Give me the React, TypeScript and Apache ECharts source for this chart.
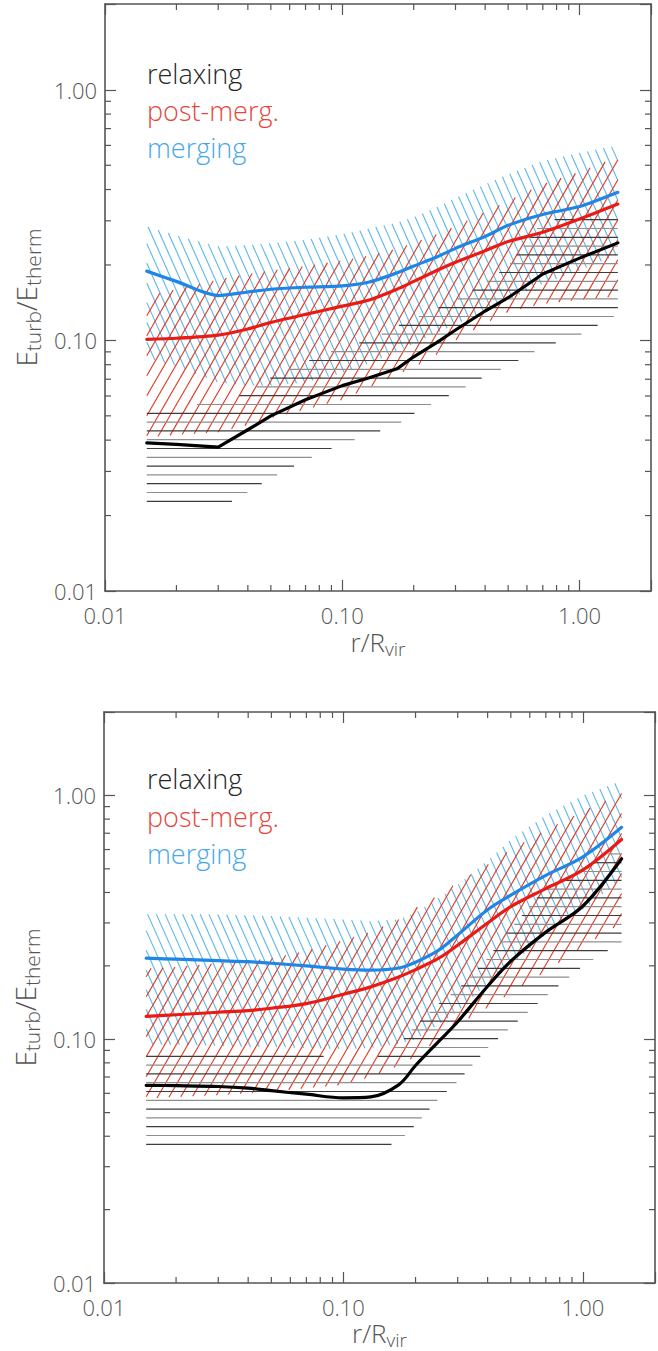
import React, { useEffect, useRef } from "react";
import * as echarts from "echarts";

// Radial sample points r/R_vir shared by every profile
const radius = [0.015, 0.02, 0.03, 0.04, 0.05, 0.07, 0.1, 0.13, 0.17, 0.2, 0.25, 0.3, 0.4, 0.5, 0.7, 1.0, 1.45];

// Upper panel: median and scatter range of E_turb/E_therm
const relaxMedianA = [0.039, 0.0385, 0.0375, 0.044, 0.05, 0.058, 0.066, 0.071, 0.077, 0.086, 0.098, 0.11, 0.131, 0.148, 0.184, 0.213, 0.245];
const relaxLowA = [0.0226, 0.0221, 0.0212, 0.0248, 0.0282, 0.0333, 0.0387, 0.042, 0.046, 0.051, 0.057, 0.062, 0.072, 0.079, 0.094, 0.105, 0.127];
const relaxHighA = [0.054, 0.055, 0.056, 0.062, 0.071, 0.082, 0.094, 0.1, 0.114, 0.122, 0.134, 0.145, 0.17, 0.198, 0.3, 0.31, 0.32];
const postMedianA = [0.101, 0.102, 0.105, 0.111, 0.118, 0.127, 0.137, 0.145, 0.16, 0.172, 0.19, 0.205, 0.228, 0.248, 0.27, 0.305, 0.35];
const postLowA = [0.041, 0.042, 0.043, 0.046, 0.049, 0.053, 0.058, 0.065, 0.073, 0.078, 0.088, 0.1, 0.117, 0.13, 0.14, 0.145, 0.15];
const postHighA = [0.15, 0.16, 0.175, 0.184, 0.19, 0.198, 0.208, 0.218, 0.232, 0.245, 0.265, 0.285, 0.325, 0.36, 0.42, 0.47, 0.54];
const mergMedianA = [0.189, 0.172, 0.151, 0.156, 0.16, 0.163, 0.165, 0.171, 0.186, 0.198, 0.215, 0.233, 0.26, 0.288, 0.318, 0.342, 0.39];
const mergLowA = [0.085, 0.079, 0.068, 0.066, 0.066, 0.068, 0.074, 0.081, 0.09, 0.097, 0.107, 0.116, 0.131, 0.145, 0.168, 0.19, 0.22];
const mergHighA = [0.285, 0.262, 0.237, 0.24, 0.244, 0.252, 0.265, 0.28, 0.295, 0.31, 0.34, 0.37, 0.42, 0.46, 0.52, 0.56, 0.6];

// Lower panel
const relaxMedianB = [0.0647, 0.0645, 0.064, 0.063, 0.0615, 0.0595, 0.0575, 0.058, 0.065, 0.078, 0.098, 0.118, 0.165, 0.209, 0.275, 0.352, 0.55];
const relaxLowB = [0.0365, 0.0362, 0.0358, 0.0354, 0.0351, 0.0345, 0.0342, 0.0345, 0.038, 0.0445, 0.057, 0.067, 0.092, 0.112, 0.15, 0.2, 0.25];
const relaxHighB = [0.088, 0.088, 0.088, 0.088, 0.088, 0.087, 0.083, 0.082, 0.095, 0.114, 0.14, 0.16, 0.215, 0.285, 0.42, 0.5, 0.62];
const postMedianB = [0.124, 0.126, 0.129, 0.131, 0.134, 0.14, 0.153, 0.164, 0.18, 0.193, 0.215, 0.243, 0.3, 0.35, 0.415, 0.495, 0.66];
const postLowB = [0.057, 0.058, 0.059, 0.06, 0.061, 0.063, 0.065, 0.07, 0.078, 0.085, 0.1, 0.115, 0.135, 0.155, 0.19, 0.24, 0.3];
const postHighB = [0.195, 0.198, 0.205, 0.21, 0.215, 0.23, 0.255, 0.275, 0.31, 0.345, 0.39, 0.44, 0.52, 0.6, 0.72, 0.86, 1.02];
const mergMedianB = [0.215, 0.213, 0.21, 0.208, 0.205, 0.2, 0.194, 0.192, 0.196, 0.207, 0.232, 0.268, 0.34, 0.39, 0.47, 0.56, 0.74];
const mergLowB = [0.095, 0.095, 0.094, 0.093, 0.093, 0.092, 0.091, 0.092, 0.096, 0.1, 0.115, 0.13, 0.17, 0.2, 0.27, 0.34, 0.45];
const mergHighB = [0.326, 0.326, 0.325, 0.322, 0.32, 0.315, 0.31, 0.305, 0.31, 0.33, 0.38, 0.43, 0.54, 0.66, 0.83, 1.0, 1.15];

// Axis ranges and tick structure
const X_MIN = 0.01;
const X_MAX = 2.0;
const Y_MIN = 0.01;
const Y_MAX = 2.2;
const decades = [0.01, 0.1, 1];
const minorMultiples = [2, 3, 4, 5, 6, 7, 8, 9];

const legendNames = ["relaxing", "post-merg.", "merging"];

const FONT = "'Open Sans', 'DejaVu Sans', sans-serif";
const AXIS_COLOR = "#555";
const LABEL_COLOR = "#555555";
const RELAX_LINE = "#000000";
const POST_LINE = "#ea1a14";
const MERG_LINE = "#1f86e6";
const POST_HATCH = "#e2361f";
const MERG_HATCH = "#5cb8ea";
const RELAX_HATCH = ["#3c3c3c", "#8e8e8e"];

const isDecade = (v: number) => Math.abs(Math.log10(v) - Math.round(Math.log10(v))) < 1e-6;
const decadeLabel = (v: number) => (isDecade(v) ? v.toFixed(2) : "");

// Clip a family of parallel lines (angle in degrees, perpendicular spacing in px) to a polygon
function hatchSegments(poly: number[][], angleDeg: number, spacing: number, phase: number) {
  const th = (angleDeg * Math.PI) / 180;
  const d = [Math.cos(th), -Math.sin(th)];
  const n = [Math.sin(th), Math.cos(th)];
  const s = poly.map((p) => p[0] * n[0] + p[1] * n[1]);
  const smin = Math.min(...s);
  const smax = Math.max(...s);
  const segs: { x1: number; y1: number; x2: number; y2: number; k: number }[] = [];
  for (let k = Math.ceil((smin - phase) / spacing); phase + k * spacing <= smax; k++) {
    const sv = phase + k * spacing;
    const hits: { u: number; x: number; y: number }[] = [];
    for (let i = 0; i < poly.length; i++) {
      const j = (i + 1) % poly.length;
      const a = s[i];
      const b = s[j];
      if ((a <= sv && b > sv) || (b <= sv && a > sv)) {
        const t = (sv - a) / (b - a);
        const x = poly[i][0] + t * (poly[j][0] - poly[i][0]);
        const y = poly[i][1] + t * (poly[j][1] - poly[i][1]);
        hits.push({ u: x * d[0] + y * d[1], x, y });
      }
    }
    hits.sort((p, q) => p.u - q.u);
    for (let m = 0; m + 1 < hits.length; m += 2) {
      segs.push({ x1: hits[m].x, y1: hits[m].y, x2: hits[m + 1].x, y2: hits[m + 1].y, k });
    }
  }
  return segs;
}

function hatchSeries(
  grid: number,
  name: string,
  low: number[],
  high: number[],
  angle: number,
  spacing: number,
  phase: number,
  colors: string[],
  width: number
) {
  return {
    type: "custom",
    name,
    xAxisIndex: grid * 2,
    yAxisIndex: grid * 2,
    silent: true,
    clip: true,
    data: [[radius[0], low[0]]],
    renderItem: (_params: any, api: any) => {
      const upper = radius.map((x, i) => api.coord([x, high[i]]));
      const lower = radius.map((x, i) => api.coord([x, low[i]])).reverse();
      const segs = hatchSegments(upper.concat(lower), angle, spacing, phase);
      return {
        type: "group",
        children: segs.map((g) => ({
          type: "line",
          shape: { x1: g.x1, y1: g.y1, x2: g.x2, y2: g.y2 },
          style: {
            stroke: colors[((g.k % colors.length) + colors.length) % colors.length],
            lineWidth: width,
          },
        })),
      };
    },
  };
}

function medianSeries(grid: number, name: string, values: number[], color: string, smooth: number | boolean) {
  return {
    type: "line",
    name,
    xAxisIndex: grid * 2,
    yAxisIndex: grid * 2,
    data: radius.map((x, i) => [x, values[i]]),
    showSymbol: false,
    symbol: "none",
    smooth,
    silent: true,
    lineStyle: { color, width: 3.2, cap: "round", join: "round" },
  };
}

// Minor ticks (2..9 per decade) pointing inwards on all four frame sides
function minorTickSeries(grid: number) {
  const xMinor: number[] = [];
  const yMinor: number[] = [];
  decades.forEach((d) =>
    minorMultiples.forEach((m) => {
      const v = m * d;
      if (v > X_MIN && v < X_MAX) xMinor.push(v);
      if (v > Y_MIN && v < 1) yMinor.push(v);
    })
  );
  return {
    type: "custom",
    xAxisIndex: grid * 2,
    yAxisIndex: grid * 2,
    silent: true,
    clip: false,
    data: [[1, 1]],
    renderItem: (_params: any, api: any) => {
      const [left, bottom] = api.coord([X_MIN, Y_MIN]);
      const [right, top] = api.coord([X_MAX, Y_MAX]);
      const len = 6;
      const style = { stroke: AXIS_COLOR, lineWidth: 1.2 };
      const children: any[] = [];
      xMinor.forEach((v) => {
        const px = api.coord([v, Y_MIN])[0];
        children.push({ type: "line", shape: { x1: px, y1: bottom, x2: px, y2: bottom - len }, style });
        children.push({ type: "line", shape: { x1: px, y1: top, x2: px, y2: top + len }, style });
      });
      yMinor.forEach((v) => {
        const py = api.coord([X_MIN, v])[1];
        children.push({ type: "line", shape: { x1: left, y1: py, x2: left + len, y2: py }, style });
        children.push({ type: "line", shape: { x1: right, y1: py, x2: right - len, y2: py }, style });
      });
      return { type: "group", children };
    },
  };
}

const axisLine = { onZero: false, lineStyle: { color: AXIS_COLOR, width: 1.6 } };
const axisTick = { inside: true, length: 11, lineStyle: { color: AXIS_COLOR, width: 1.2 } };

// Axis titles with subscripts: the subscript token sits at the bottom of a taller line box
function nameStyle(main: number, sub: number) {
  return {
    color: LABEL_COLOR,
    fontFamily: FONT,
    fontWeight: 300,
    fontSize: main,
    rich: {
      m: { fontSize: main, lineHeight: main + 6, fontFamily: FONT, fontWeight: 300, color: LABEL_COLOR },
      s: { fontSize: sub, lineHeight: sub - 4, verticalAlign: "bottom", fontFamily: FONT, fontWeight: 300, color: LABEL_COLOR },
    },
  };
}

const tickLabel = { formatter: decadeLabel, fontSize: 22, color: LABEL_COLOR, fontFamily: FONT, fontWeight: 300 };

function xAxes(grid: number, gap: number) {
  const base = {
    type: "log",
    logBase: 10,
    min: X_MIN,
    max: X_MAX,
    gridIndex: grid,
    axisLine,
    axisTick,
    splitLine: { show: false },
  };
  return [
    {
      ...base,
      position: "bottom",
      axisLabel: { ...tickLabel, margin: 13 },
      name: "{m|r/R}{s|vir}",
      nameLocation: "middle",
      nameGap: gap,
      nameTextStyle: nameStyle(26, 19),
    },
    { ...base, position: "top", axisLabel: { show: false } },
  ];
}

function yAxes(grid: number) {
  const base = {
    type: "log",
    logBase: 10,
    min: Y_MIN,
    max: Y_MAX,
    gridIndex: grid,
    axisLine,
    axisTick,
    splitLine: { show: false },
  };
  return [
    {
      ...base,
      position: "left",
      axisLabel: { ...tickLabel, margin: 8 },
      name: "{m|E}{s|turb}{m|/E}{s|therm}",
      nameLocation: "middle",
      nameRotate: 90,
      nameGap: 60,
      nameTextStyle: nameStyle(28, 21),
    },
    { ...base, position: "right", axisLabel: { show: false } },
  ];
}

function panelSeries(
  grid: number,
  relax: number[][],
  post: number[][],
  merg: number[][],
  phaseBlack: number,
  smoothA: number | boolean,
  smoothBlack: number | boolean
) {
  return [
    hatchSeries(grid, "merging range", merg[1], merg[2], 114, 8.0, 3, [MERG_HATCH], 1.1),
    hatchSeries(grid, "post-merg. range", post[1], post[2], 60, 10.0, 5, [POST_HATCH], 1.1),
    hatchSeries(grid, "relaxing range", relax[1], relax[2], 0, 8.8, phaseBlack, RELAX_HATCH, 1.2),
    medianSeries(grid, legendNames[0], relax[0], RELAX_LINE, smoothBlack),
    medianSeries(grid, legendNames[1], post[0], POST_LINE, smoothA),
    medianSeries(grid, legendNames[2], merg[0], MERG_LINE, smoothA),
    minorTickSeries(grid),
  ];
}

function legendTexts(baselines: number[], left: number) {
  const colors = ["#262626", "#e6463a", "#47a8e8"];
  return legendNames.map((t, i) => ({
    type: "text",
    x: left,
    y: baselines[i] - 9,
    silent: true,
    style: {
      text: t,
      fill: colors[i],
      fontFamily: FONT,
      fontSize: 27,
      lineHeight: 30,
      fontWeight: 300,
      verticalAlign: "middle",
      align: "left",
    },
  }));
}

const option = {
  animation: false,
  backgroundColor: "#ffffff",
  grid: [
    { left: 105, top: 4, width: 546, height: 587 },
    { left: 104, top: 712, width: 560, height: 571 },
  ],
  xAxis: [...xAxes(0, 35), ...xAxes(1, 34)],
  yAxis: [...yAxes(0), ...yAxes(1)],
  series: [
    ...panelSeries(
      0,
      [relaxMedianA, relaxLowA, relaxHighA],
      [postMedianA, postLowA, postHighA],
      [mergMedianA, mergLowA, mergHighA],
      8.5,
      0.25,
      false
    ),
    ...panelSeries(
      1,
      [relaxMedianB, relaxLowB, relaxHighB],
      [postMedianB, postLowB, postHighB],
      [mergMedianB, mergLowB, mergHighB],
      0.3,
      0.35,
      0.35
    ),
  ],
  graphic: [...legendTexts([82, 119, 156], 147), ...legendTexts([787, 825, 862], 147)],
};

export default function App() {
  const ref = useRef<HTMLDivElement>(null);
  useEffect(() => {
    if (!ref.current) return;
    const chart = echarts.init(ref.current, undefined, { renderer: "svg" });
    chart.setOption(option as any);
    return () => chart.dispose();
  }, []);
  return (
    <div
      ref={ref}
      style={{ position: "absolute", left: 0, top: 0, width: 658, height: 1351, background: "#fff" }}
    />
  );
}
